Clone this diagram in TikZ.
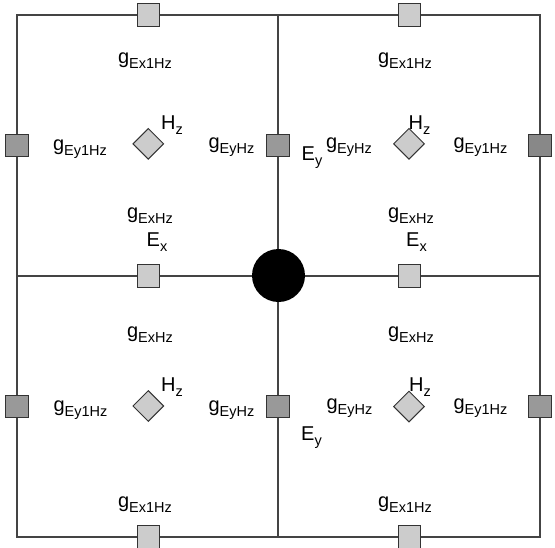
\documentclass[tikz,border=0pt]{standalone}
\usepackage{fontspec}
\setmainfont{Liberation Sans}
\usetikzlibrary{shapes.geometric}
\definecolor{lightsq}{HTML}{CCCCCC}
\definecolor{darksq}{HTML}{999999}
\definecolor{darkersq}{HTML}{888888}
\definecolor{edgecol}{HTML}{333333}
\definecolor{linecol}{HTML}{444444}
\newcommand{\subtxt}[2]{#1\raisebox{-5pt}{\fontsize{14.5}{14.5}\selectfont #2}}
\begin{document}
\begin{tikzpicture}[x=1pt,y=-1pt,
  gridline/.style={draw=linecol,line width=1.1pt},
  esq/.style={rectangle,draw=edgecol,line width=1.3pt,minimum size=22.5pt,inner sep=0pt},
  exsq/.style={esq,fill=lightsq},
  eysq/.style={esq,fill=darksq},
  hzdia/.style={diamond,draw=edgecol,line width=1pt,fill=lightsq,minimum width=31pt,minimum height=31pt,inner sep=0pt},
  lbl/.style={inner sep=0pt,font=\fontsize{20}{22}\selectfont}
]
\useasboundingbox (0,0) rectangle (555,547);
% grid corners
\coordinate (c00) at (17,15);
\coordinate (c10) at (278,15);
\coordinate (c20) at (540,15);
\coordinate (c01) at (17,276);
\coordinate (c21) at (540,276);
\coordinate (c02) at (17,537);
\coordinate (c12) at (278,537);
\coordinate (c22) at (540,537);
\draw[gridline] (c00) -- (c20) -- (c22) -- (c02) -- cycle;
\draw[gridline] (c10) -- (c12);
\draw[gridline] (c01) -- (c21);
% centre node
\node[circle,fill=black,minimum size=53pt,inner sep=0pt] (ctr) at (278.5,275.5) {};
% Ex squares (horizontal edges)
\node[exsq] (ex1) at (148.5,15) {};
\node[exsq] (ex2) at (409.5,15) {};
\node[exsq] (ex3) at (148.5,276) {};
\node[exsq] (ex4) at (409.5,276) {};
\node[exsq] (ex5) at (148.5,537) {};
\node[exsq] (ex6) at (409.5,537) {};
% Ey squares (vertical edges)
\node[eysq] (ey1) at (17,145.5) {};
\node[eysq] (ey2) at (278,145.5) {};
\node[eysq,fill=darkersq] (ey3) at (540,145.5) {};
\node[eysq] (ey4) at (17,406.5) {};
\node[eysq] (ey5) at (278,406.5) {};
\node[eysq] (ey6) at (540,406.5) {};
% Hz diamonds
\node[hzdia] (hz1) at (148.3,143.8) {};
\node[hzdia] (hz2) at (409,143.8) {};
\node[hzdia] (hz3) at (148.3,406) {};
\node[hzdia] (hz4) at (409,406.5) {};
% top-left labels
\node[lbl] (tl1) at (145,60.5) {\subtxt{g}{Ex1Hz}};
\node[lbl] (tl2) at (172,125) {\subtxt{H}{z}};
\node[lbl] (tl3) at (80,149) {\subtxt{g}{Ey1Hz}};
\node[lbl] (tl4) at (231.5,147.5) {\subtxt{g}{EyHz}};
\node[lbl] (tl5) at (150,216) {\subtxt{g}{ExHz}};
\node[lbl] (tl6) at (157,242.5) {\subtxt{E}{x}};
% top-right labels
\node[lbl] (tr1) at (405,60.5) {\subtxt{g}{Ex1Hz}};
\node[lbl] (tr2) at (419.5,125) {\subtxt{H}{z}};
\node[lbl] (tr3) at (312,158) {\subtxt{E}{y}};
\node[lbl] (tr4) at (349,147.5) {\subtxt{g}{EyHz}};
\node[lbl] (tr5) at (480.5,147.5) {\subtxt{g}{Ey1Hz}};
\node[lbl] (tr6) at (411,216) {\subtxt{g}{ExHz}};
\node[lbl] (tr7) at (416.5,242.5) {\subtxt{E}{x}};
% bottom-left labels
\node[lbl] (bl1) at (150,334.5) {\subtxt{g}{ExHz}};
\node[lbl] (bl2) at (172,387.5) {\subtxt{H}{z}};
\node[lbl] (bl3) at (80.5,410) {\subtxt{g}{Ey1Hz}};
\node[lbl] (bl4) at (231.5,410) {\subtxt{g}{EyHz}};
\node[lbl] (bl5) at (145,505) {\subtxt{g}{Ex1Hz}};
% bottom-right labels
\node[lbl] (br1) at (411,334.5) {\subtxt{g}{ExHz}};
\node[lbl] (br2) at (420,387) {\subtxt{H}{z}};
\node[lbl] (br3) at (349.5,408.5) {\subtxt{g}{EyHz}};
\node[lbl] (br4) at (311.5,437.5) {\subtxt{E}{y}};
\node[lbl] (br5) at (480.5,408.5) {\subtxt{g}{Ey1Hz}};
\node[lbl] (br6) at (405,505) {\subtxt{g}{Ex1Hz}};
\end{tikzpicture}
\end{document}
